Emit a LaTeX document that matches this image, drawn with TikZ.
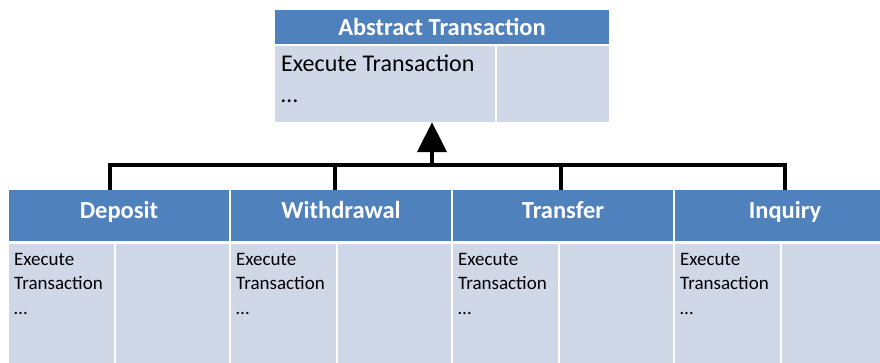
\documentclass[tikz,border=0pt]{standalone}
\usepackage{fontspec}
\setmainfont{Carlito}
\usetikzlibrary{arrows.meta}
\definecolor{hdrblue}{HTML}{4F81BD}
\definecolor{cellblue}{HTML}{D0D8E8}
\tikzset{
  hdr/.style={fill=hdrblue, inner sep=0pt, text=white,
    font=\fontsize{24.5}{29}\selectfont\bfseries},
  cell/.style={fill=cellblue, inner sep=0pt},
  toptext/.style={anchor=base west, inner sep=0pt, align=left,
    font=\fontsize{24}{31}\selectfont},
  subtext/.style={anchor=base west, inner sep=0pt, align=left,
    font=\fontsize{19}{24.5}\selectfont},
  bus/.style={line width=4pt}
}
\begin{document}
\begin{tikzpicture}[x=1pt,y=-1pt]
\useasboundingbox (0,0) rectangle (880,363);
\clip (0,0) rectangle (880,363);

% superclass box
\node[hdr, minimum width=334pt, minimum height=34pt] (abs) at (442,27) {Abstract Transaction};
\node[cell, minimum width=220pt, minimum height=76pt] (absL) at (385,84) {};
\node[cell, minimum width=112pt, minimum height=76pt] (absR) at (553,84) {};
% multi-line text: the base anchor sits on the last line
\node[toptext] (absT) at (281,103) {Execute Transaction\\\dots};

% subclass boxes: name, left edge, title (title set a little above centre)
\foreach \n/\x/\t in {dep/9/Deposit, wdr/231/Withdrawal, trf/453/Transfer, inq/675/Inquiry}{
  \node[hdr, minimum width=220pt, minimum height=51pt] (\n) at (\x+110,215.5) {\raisebox{12pt}{\t}};
  \node[cell, minimum width=105pt, minimum height=119pt] (\n L) at (\x+52.5,303.5) {};
  \node[cell, minimum width=113pt, minimum height=119pt] (\n R) at (\x+163.5,303.5) {};
  \node[subtext] (\n T) at (\x+5,314) {Execute\\Transaction\\\dots};
}

% generalisation connectors
\coordinate (hub) at (432,165);
\draw[bus] ([xshift=-9pt]dep.north) |- (inq.north |- hub) -- (inq.north);
\draw[bus] ([xshift=-6pt]wdr.north) -- ([xshift=-6pt]wdr.north |- hub);
\draw[bus] ([xshift=-2pt]trf.north) -- ([xshift=-2pt]trf.north |- hub);
\draw[bus, -{Triangle[width=29pt,length=30pt]}] (hub) -- (hub |- absL.south);
\end{tikzpicture}
\end{document}
